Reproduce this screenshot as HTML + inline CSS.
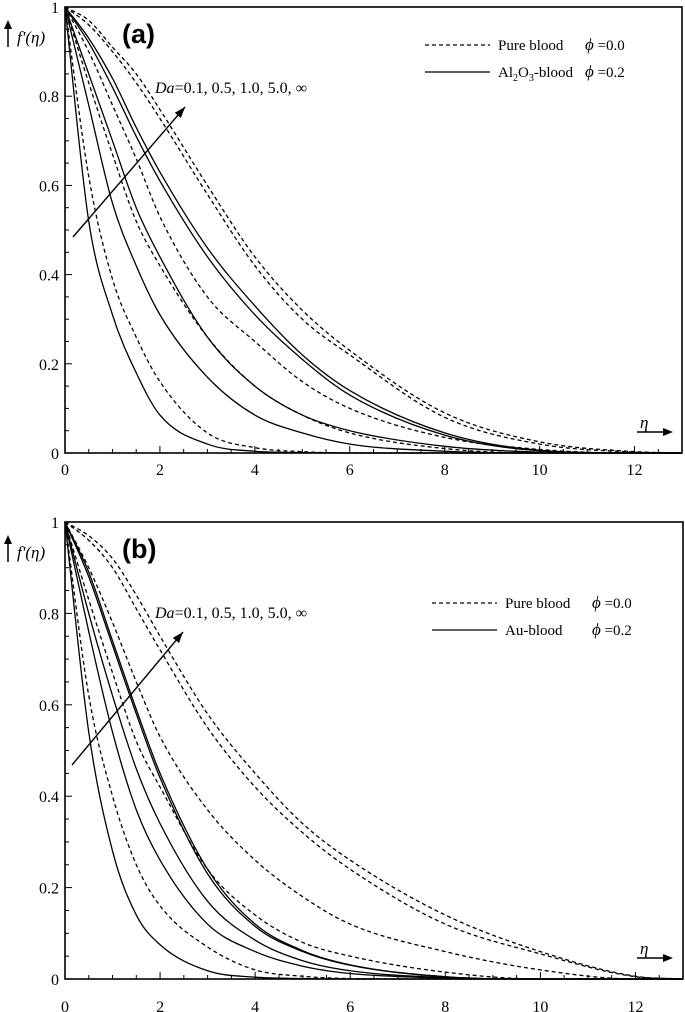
<!DOCTYPE html>
<html><head><meta charset="utf-8"><style>
body{margin:0;background:#fff}
svg{display:block;font-family:"Liberation Serif",serif}
</style></head><body>
<svg id="c" width="685" height="1012" viewBox="0 0 685 1012" xmlns="http://www.w3.org/2000/svg"></svg>
<script>
const etaPts=[0,0.5,1,1.5,2,3,4,5,6,8,10,12,13];
const xTicks=[0,2,4,6,8,10,12];
const yTicks=[0,0.2,0.4,0.6,0.8,1];
const yTickLabels=["0","0.2","0.4","0.6","0.8","1"];
// panel (a)
const aSolid=[
[1,0.52,0.31,0.18,0.085,0.02,0.004,0.001,0,0,0,0,0],
[1,0.78,0.56,0.42,0.31,0.17,0.085,0.045,0.02,0.004,0,0,0],
[1,0.85,0.70,0.55,0.44,0.26,0.15,0.085,0.05,0.015,0.002,0,0],
[1,0.92,0.82,0.71,0.61,0.44,0.31,0.21,0.13,0.04,0.005,0,0],
[1,0.93,0.84,0.73,0.63,0.46,0.33,0.22,0.14,0.045,0.006,0,0]];
const aDashed=[
[1,0.62,0.39,0.26,0.16,0.045,0.012,0.003,0,0,0,0,0],
[1,0.83,0.67,0.52,0.42,0.26,0.15,0.085,0.045,0.01,0,0,0],
[1,0.90,0.78,0.66,0.53,0.35,0.25,0.16,0.10,0.035,0.008,0,0],
[1,0.96,0.90,0.83,0.75,0.58,0.42,0.30,0.22,0.08,0.02,0.002,0],
[1,0.97,0.91,0.85,0.77,0.60,0.44,0.32,0.23,0.09,0.025,0.003,0]];
// panel (b)
const bSolid=[
[1,0.54,0.28,0.14,0.075,0.018,0.004,0.001,0,0,0,0,0],
[1,0.76,0.54,0.37,0.26,0.12,0.06,0.028,0.012,0.002,0,0,0],
[1,0.80,0.62,0.46,0.34,0.17,0.085,0.04,0.018,0.003,0,0,0],
[1,0.88,0.73,0.58,0.44,0.23,0.115,0.06,0.03,0.005,0,0,0],
[1,0.89,0.74,0.59,0.45,0.24,0.12,0.062,0.031,0.005,0,0,0]];
const bDashed=[
[1,0.62,0.40,0.25,0.16,0.07,0.02,0.006,0.001,0,0,0,0],
[1,0.83,0.67,0.52,0.42,0.24,0.14,0.08,0.05,0.015,0,0,0],
[1,0.90,0.78,0.65,0.53,0.37,0.26,0.18,0.12,0.06,0.02,0,0],
[1,0.96,0.90,0.81,0.72,0.55,0.42,0.32,0.24,0.12,0.055,0.005,0],
[1,0.97,0.92,0.84,0.75,0.58,0.45,0.34,0.26,0.14,0.06,0.006,0]];

const NS="http://www.w3.org/2000/svg";
const svg=document.getElementById('c');
function mk(tag,attrs,parent,txt){const e=document.createElementNS(NS,tag);for(const k in attrs)e.setAttribute(k,attrs[k]);if(txt!==undefined)e.textContent=txt;(parent||svg).appendChild(e);return e;}
function monotone(pts){
  const n=pts.length,dx=[],s=[],m=[];
  for(let i=0;i<n-1;i++){dx[i]=pts[i+1][0]-pts[i][0];s[i]=(pts[i+1][1]-pts[i][1])/dx[i];}
  m[0]=s[0];m[n-1]=s[n-2];
  for(let i=1;i<n-1;i++){m[i]=(s[i-1]*s[i]<=0)?0:(s[i-1]+s[i])/2;}
  for(let i=0;i<n-1;i++){if(s[i]===0){m[i]=0;m[i+1]=0;continue;}const a=m[i]/s[i],b=m[i+1]/s[i],h=a*a+b*b;if(h>9){const t=3/Math.sqrt(h);m[i]=t*a*s[i];m[i+1]=t*b*s[i];}}
  let d="M"+pts[0][0]+","+pts[0][1];
  for(let i=0;i<n-1;i++){const h=dx[i]/3;d+=` C${pts[i][0]+h},${pts[i][1]+m[i]*h} ${pts[i+1][0]-h},${pts[i+1][1]-m[i+1]*h} ${pts[i+1][0]},${pts[i+1][1]}`;}
  return d;
}

function panel(o){
  const g=mk('g',{});
  
  
  const X=v=>o.x0+v*(o.x1-o.x0)/13, Y=v=>o.y0-v*(o.y0-o.y1);
  const frame=mk('rect',{x:o.x0,y:o.y1,width:o.x1-o.x0,height:o.y0-o.y1,fill:'none',stroke:'#000','stroke-width':1.6},g);
  
  for(let v=0;v<=13.001;v+=0.5){const maj=Math.abs(v%2)<1e-6;mk('line',{x1:X(v),x2:X(v),y1:o.y0,y2:o.y0-(maj?7:4),stroke:'#000','stroke-width':1},g);}
  for(let v=0;v<=1.001;v+=0.05){const maj=Math.abs((v*5)-Math.round(v*5))<1e-6;mk('line',{x1:o.x0,x2:o.x0+(maj?7:4),y1:Y(v),y2:Y(v),stroke:'#000','stroke-width':1},g);}
  xTicks.forEach(t=>{const e=mk('text',{x:X(t),y:o.y0+o.xlabOff,'text-anchor':'middle','font-size':16},g,String(t));});
  yTicks.forEach((t,i)=>{const e=mk('text',{x:o.x0-6,y:Y(t)+6,'text-anchor':'end','font-size':16},g,yTickLabels[i]);});
  const draw=(set,dash,name)=>set.forEach((s,i)=>{const pts=etaPts.map((e,j)=>[X(e),Y(s[j])]);const p=mk('path',{d:monotone(pts),fill:'none',stroke:'#000','stroke-width':1.3,'stroke-dasharray':dash},g);});
  draw(o.dashed,'4,3','pure-blood');
  draw(o.solid,'none',o.id==='a'?'al2o3-blood':'au-blood');
  const lab=mk('text',{x:o.x0+57,y:o.y1+36,'font-size':27,'font-weight':'bold','font-family':'Liberation Sans, sans-serif'},g,'('+o.id+')');
  
  mk('line',{x1:8,x2:8,y1:o.y1+40,y2:o.y1+20,stroke:'#000','stroke-width':1.5},g);
  mk('path',{d:`M4,${o.y1+22} L8,${o.y1+13} L12,${o.y1+22}Z`,fill:'#000'},g);
  const yt=mk('text',{x:17,y:o.y1+36,'font-size':17,'font-style':'italic'},g,"f'(η)");
  
  const xt=mk('text',{x:640,y:o.y0-25,'font-size':17,'font-style':'italic'},g,'η');
  
  mk('line',{x1:637,x2:665,y1:o.y0-21,y2:o.y0-21,stroke:'#000','stroke-width':1.5},g);
  mk('path',{d:`M663,${o.y0-25} L673,${o.y0-21} L663,${o.y0-17}Z`,fill:'#000'},g);
  const a=o.arrow;
  mk('line',{x1:a[0],y1:a[1],x2:a[2],y2:a[3],stroke:'#000','stroke-width':1.4},g);
  const ang=Math.atan2(a[3]-a[1],a[2]-a[0]);const hx=a[2],hy=a[3];
  const p1=[hx-11*Math.cos(ang)+4*Math.sin(ang),hy-11*Math.sin(ang)-4*Math.cos(ang)],p2=[hx-11*Math.cos(ang)-4*Math.sin(ang),hy-11*Math.sin(ang)+4*Math.cos(ang)];
  mk('path',{d:`M${hx},${hy} L${p1} L${p2}Z`,fill:'#000'},g);
  const da=mk('text',{x:155,y:a[3]-14,'font-size':16},g);
  
  mk('tspan',{'font-style':'italic'},da,'Da');mk('tspan',{},da,'=0.1, 0.5, 1.0, 5.0, ∞');
  const L=o.legend;
  const lg=mk('g',{},g);
  mk('line',{x1:L[0],x2:L[0]+65,y1:L[1],y2:L[1],stroke:'#000','stroke-width':1.3,'stroke-dasharray':'4,3'},lg);
  mk('line',{x1:L[0],x2:L[0]+65,y1:L[1]+27,y2:L[1]+27,stroke:'#000','stroke-width':1.3},lg);
  mk('text',{x:L[0]+73,y:L[1]+5,'font-size':15},lg,'Pure blood');
  const t2=mk('text',{x:L[0]+73,y:L[1]+32,'font-size':15},lg);
  if(o.id==='a'){mk('tspan',{},t2,'Al');mk('tspan',{'font-size':10,dy:4},t2,'2');mk('tspan',{dy:-4},t2,'O');mk('tspan',{'font-size':10,dy:4},t2,'3');mk('tspan',{dy:-4},t2,'-blood');}
  else mk('tspan',{},t2,'Au-blood');
  [[0,'=0.0'],[27,'=0.2']].forEach(([dy,s])=>{const t=mk('text',{x:L[0]+160,y:L[1]+5+dy,'font-size':15},lg);mk('tspan',{'font-style':'italic','font-size':17},t,'ϕ');mk('tspan',{},t,' '+s);});
}
panel({id:'a',x0:65,x1:682,y0:453,y1:7,xlabOff:22,solid:aSolid,dashed:aDashed,arrow:[73,237,185,107],legend:[425,45]});
panel({id:'b',x0:65,x1:683,y0:979,y1:522,xlabOff:33,solid:bSolid,dashed:bDashed,arrow:[72,765,183,632],legend:[432,603]});
</script>
</body></html>
